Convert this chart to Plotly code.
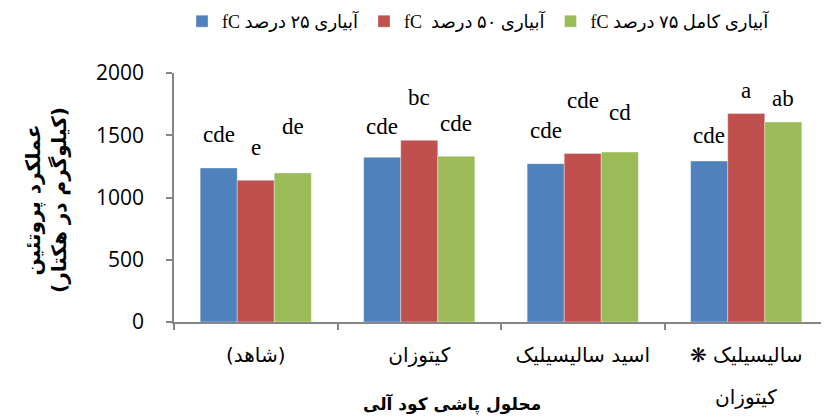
import plotly.graph_objects as go

# ---------------- data ----------------
categories = ["(شاهد)", "کیتوزان", "اسید سالیسیلیک", "سالیسیلیک ❋<br>کیتوزان"]
series_names = ["آبیاری ۲۵ درصد fC", "آبیاری ۵۰ درصد  fC", "آبیاری کامل ۷۵ درصد fC"]
irr25 = [1237, 1323, 1272, 1293]
irr50 = [1138, 1459, 1353, 1674]
irr75 = [1197, 1331, 1365, 1606]
letters25 = ["cde", "cde", "cde", "cde"]
letters50 = ["e", "bc", "cde", "a"]
letters75 = ["de", "cde", "cd", "ab"]
y_ticks = [0, 500, 1000, 1500, 2000]
y_title = "عملکرد پروتئین<br>(کیلوگرم در هکتار)"
x_title = "محلول پاشی کود آلی"

# ---------------- styling ----------------
OFF = 8                      # page body margin offset
W, H = 829 - OFF, 418 - OFF
L, R, T, B = 174 - OFF, 1, 73 - OFF, 96
PW, PH = W - L - R, H - T - B
colors = ["#4F81BD", "#C0504D", "#9BBB59"]
label_raise_px = [
    [33, 31, 33, 26],   # series 1
    [33, 43, 53, 23],   # series 2
    [46, 33, 40, 24],   # series 3
]
CAT_FONT = dict(family="DejaVu Sans, Noto Sans", size=20, color="black")
RLE, PDF = "\u202b", "\u202c"
def rtl(s):
    return "<br>".join(RLE + part + PDF for part in s.split("<br>"))

def px_to_paper(px, py):
    # px, py: target page pixels
    return (px - OFF - L) / PW, (H - B - (py - OFF)) / PH

BARGAP = 0.32
values = [irr25, irr50, irr75]
letters = [letters25, letters50, letters75]
cat_lines = [c.split("<br>") for c in categories]
tick_text = [rtl(lines[0]) for lines in cat_lines]

fig = go.Figure()
for i in range(3):
    fig.add_trace(go.Bar(
        x=list(range(len(categories))), y=values[i], name=rtl(series_names[i]),
        marker=dict(color=colors[i], line=dict(color="rgba(255,255,255,0.6)", width=0.6)),
    ))

bw = (1 - BARGAP) / 3
annotations = []
for i in range(3):
    for j in range(len(categories)):
        annotations.append(dict(
            x=j + (i - 1) * bw, y=values[i][j], xref="x", yref="y",
            text=letters[i][j], showarrow=False, yshift=label_raise_px[i][j],
            font=dict(family="Liberation Serif, Times New Roman, serif", size=23, color="black"),
        ))

# extra lines of multi-line category labels
_, line2_y = px_to_paper(0, 397)
for j, lines in enumerate(cat_lines):
    for k, extra in enumerate(lines[1:]):
        annotations.append(dict(
            x=j, y=line2_y, xref="x", yref="paper", xanchor="center", yanchor="middle",
            text=rtl(extra), showarrow=False, font=CAT_FONT,
        ))

yx, yy = px_to_paper(46, 200)
annotations.append(dict(
    x=yx, y=yy, xref="paper", yref="paper", xanchor="center", yanchor="middle",
    text="<b>" + rtl(y_title) + "</b>", textangle=-90, showarrow=False,
    font=dict(family="DejaVu Sans, Noto Sans", size=20, color="black"),
))
xx, xy = px_to_paper(452, 404)
annotations.append(dict(
    x=xx, y=xy, xref="paper", yref="paper", xanchor="center", yanchor="middle",
    text="<b>" + rtl(x_title) + "</b>", showarrow=False,
    font=dict(family="DejaVu Sans, Noto Sans", size=17, color="black"),
))

lx, ly = px_to_paper(182, 3)
fig.update_layout(
    width=W, height=H,
    margin=dict(l=L, r=R, t=T, b=B, autoexpand=False),
    paper_bgcolor="white", plot_bgcolor="white",
    barmode="group", bargap=BARGAP, bargroupgap=0,
    showlegend=True,
    legend=dict(orientation="h", x=lx, xanchor="left", y=ly, yanchor="top",
                font=dict(family="Liberation Serif, DejaVu Sans", size=18, color="black"),
                itemwidth=30, traceorder="normal", tracegroupgap=0),
    annotations=annotations,
)
fig.update_yaxes(
    range=[0, 2000], tickvals=y_ticks, ticktext=[str(v) for v in y_ticks],
    showgrid=False, zeroline=False, showline=True, linecolor="#868686", linewidth=1.5,
    ticks="outside", ticklen=6, tickcolor="#868686", tickwidth=1.5,
    tickfont=dict(family="Open Sans", size=21, color="black"),
    ticklabelstandoff=18, automargin=False,
)
fig.update_xaxes(
    range=[-0.5, len(categories) - 0.5],
    tickvals=list(range(len(categories))), ticktext=tick_text,
    showgrid=False, showline=True, linecolor="#868686", linewidth=1.5,
    ticks="", tickfont=CAT_FONT,
    ticklabelstandoff=14, automargin=False,
    minor=dict(tickvals=[k - 0.5 for k in range(len(categories) + 1)], ticks="outside",
               ticklen=6, tickcolor="#868686", tickwidth=1.5),
)

fig.write_html("out.html")
